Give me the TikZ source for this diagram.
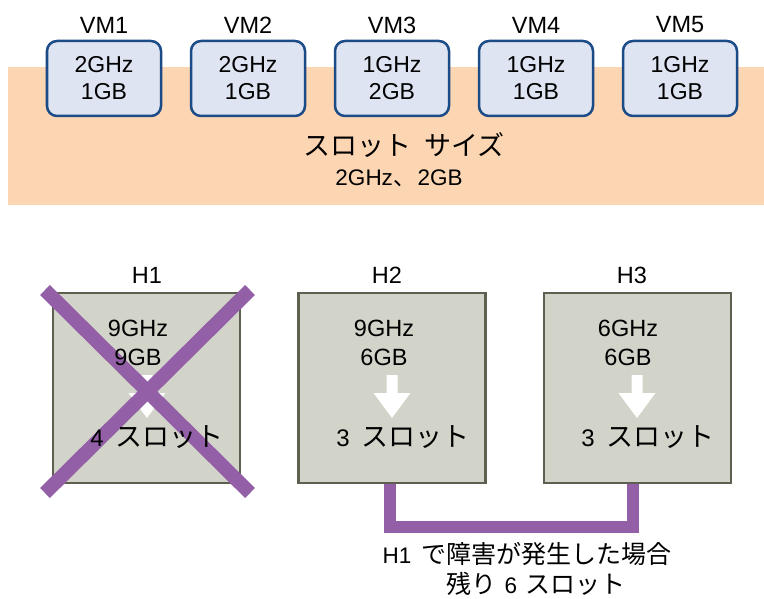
\documentclass[tikz,border=0pt]{standalone}
\usepackage{fontspec}
\setmainfont{Liberation Sans}
\newfontfamily\cjk{Noto Sans CJK JP}
\definecolor{peach}{HTML}{FCD5B2}
\definecolor{vmfill}{HTML}{DEE4F1}
\definecolor{vmdraw}{HTML}{1B4C88}
\definecolor{hostfill}{HTML}{D2D3C9}
\definecolor{hostdraw}{HTML}{5E5F4E}
\definecolor{purp}{HTML}{9360A8}
\begin{document}
\begin{tikzpicture}[x=1bp,y=-1bp,
  vm/.style={draw=vmdraw,fill=vmfill,line width=2.5bp,rounded corners=10bp,minimum width=114bp,minimum height=75bp,align=center,inner sep=0pt,font=\fontsize{23bp}{27bp}\selectfont},
  lbl/.style={inner sep=0pt,font=\fontsize{23.5bp}{24bp}\selectfont},
  host/.style={draw=hostdraw,fill=hostfill,line width=2.5bp,minimum width=187bp,minimum height=190bp,inner sep=0pt},
  htxt/.style={align=center,inner sep=0pt,font=\fontsize{23.5bp}{29bp}\selectfont},
  slot/.style={inner sep=0pt,font=\fontsize{24bp}{28bp}\selectfont},
  cross/.style={draw=purp,line width=14bp},
  conn/.style={draw=purp,line width=12bp,line join=miter},
  note/.style={inner sep=0pt,font=\fontsize{22.5bp}{26bp}\selectfont}]
\useasboundingbox (0,0) rectangle (764,599);
% band
\fill[peach] (8,67) rectangle (764,205);
\node[inner sep=0pt,font=\fontsize{27bp}{30bp}\cjk] (slotsize) at (404,145) {スロット\hspace{13bp}サイズ};
\node[inner sep=0pt,font=\fontsize{22.5bp}{24bp}\selectfont] (slotval) at (399,178) {2GHz{\cjk 、}\hspace{2bp}2GB};
% VMs
\foreach \i/\x/\c/\m in {1/104/2/1,2/248/2/1,3/392/1/2,4/536/1/1,5/680/1/1}{
  \node[vm] (vm\i) at (\x,78.5) {\c GHz\\\m GB};
  \node[lbl] (vml\i) at (\x,25) {VM\i};
}
% hosts
\node[host] (h1) at (146.5,388) {};
\node[host] (h2) at (392,388) {};
\node[host] (h3) at (637.5,388) {};
% arrows
\foreach \x in {147,392,637}{
  \fill[white] (\x-5.5,375) -- (\x+5.5,375) -- (\x+5.5,393) -- (\x+18.5,393) -- (\x,418) -- (\x-18.5,393) -- (\x-5.5,393) -- cycle;
}
% cross
\draw[cross] (45,290) -- (250,493);
\draw[cross] (250,290) -- (45,493);
% host texts
\node[lbl] (hl1) at (147,275) {H1};
\node[lbl] (hl2) at (387,275) {H2};
\node[lbl] (hl3) at (632,275) {H3};
\node[htxt] (ht1) at (138,342.5) {9GHz\\9GB};
\node[htxt] (ht2) at (384,342.5) {9GHz\\6GB};
\node[htxt] (ht3) at (628,342.5) {6GHz\\6GB};
\node[slot] (s1) at (157,437) {4\hspace{12bp}{\cjk\fontsize{27bp}{28bp}\selectfont スロット}};
\node[slot] (s2) at (403,437) {3\hspace{12bp}{\cjk\fontsize{27bp}{28bp}\selectfont スロット}};
\node[slot] (s3) at (648,437) {3\hspace{12bp}{\cjk\fontsize{27bp}{28bp}\selectfont スロット}};
% connector
\draw[conn] ([xshift=-2.5bp]h2.south) |- ([xshift=-5bp,yshift=-43bp]h3.south) -- ([xshift=-5bp]h3.south);
\node[note] (note1) at (527,554) {H1\hspace{10bp}{\cjk\fontsize{25bp}{26bp}\selectfont で障害が発生した場合}};
\node[note] (note2) at (536,584) {{\cjk\fontsize{25bp}{26bp}\selectfont 残り}\hspace{8bp}6\hspace{8bp}{\cjk\fontsize{25bp}{26bp}\selectfont スロット}};
\end{tikzpicture}
\end{document}
